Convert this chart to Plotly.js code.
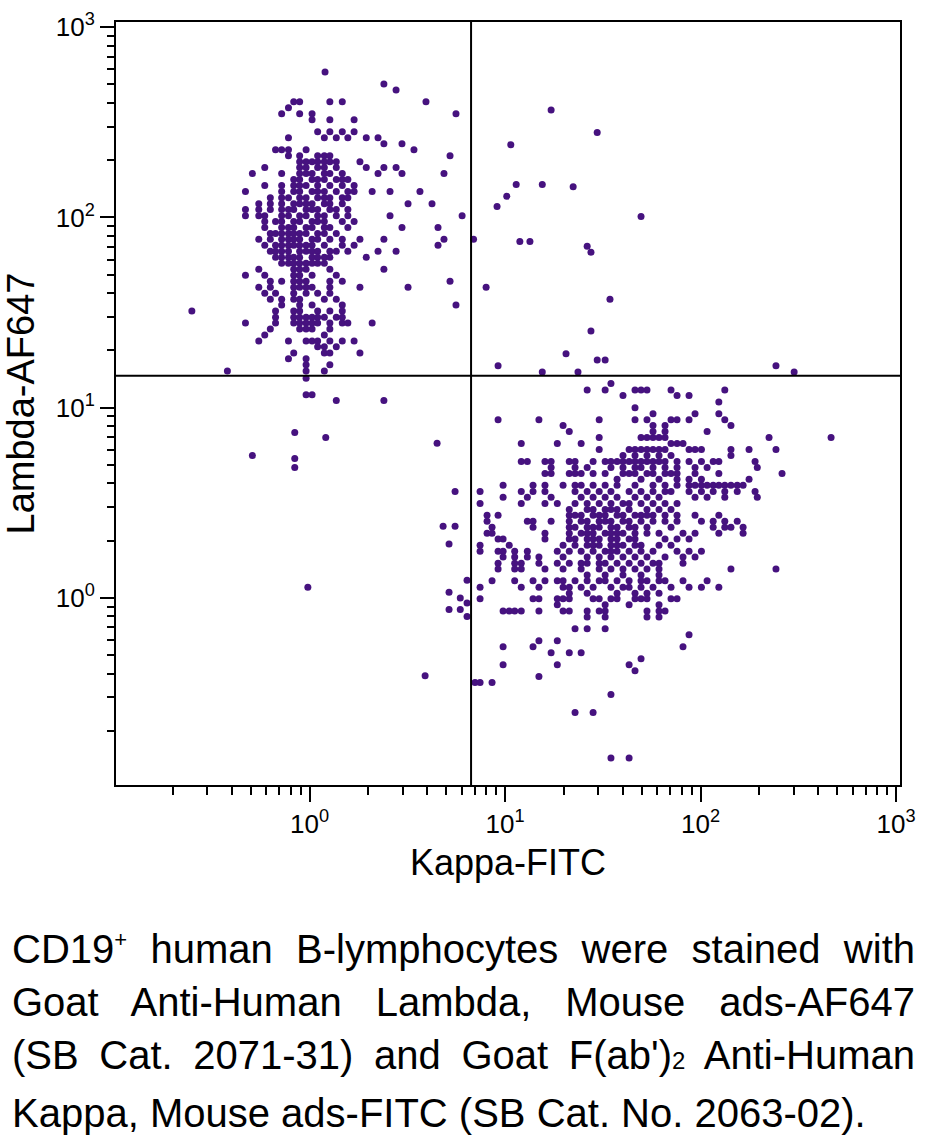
<!DOCTYPE html>
<html>
<head>
<meta charset="utf-8">
<script src="https://cdn.plot.ly/plotly-3.0.1.min.js"></script>
<style>
  html, body { margin: 0; padding: 0; background: #ffffff; }
  #wrap { position: relative; width: 930px; height: 1143px; overflow: hidden; }
  #chart { position: absolute; left: 0; top: 0; width: 930px; height: 900px; }
  #caption { position: absolute; left: 12px; top: 923px; width: 903px;
    font-family: "Liberation Sans", Arial, sans-serif; font-size: 40px; line-height: 53px; color: #000; }
  #caption .j { text-align: justify; text-align-last: justify; white-space: normal; }
  #caption .l { text-align: left; white-space: nowrap; }
</style>
</head>
<body>
<div id="wrap">
  <div id="chart"></div>
  <div id="caption">
    <div class="j">CD19<sup style="font-size:0.55em;vertical-align:0.75em;line-height:0">+</sup> human B-lymphocytes were stained with</div>
    <div class="j">Goat Anti-Human Lambda, Mouse ads-AF647</div>
    <div class="j">(SB Cat. 2071-31) and Goat F(ab')<span style="font-size:0.6em">2</span> Anti-Human</div>
    <div class="l">Kappa, Mouse ads-FITC (SB Cat. No. 2063-02).</div>
  </div>
</div>
<script>
// ---- axis ticks ----
const majorTickVals = [1, 10, 100, 1000];
const majorTickText = ['10<sup>0</sup>', '10<sup>1</sup>', '10<sup>2</sup>', '10<sup>3</sup>'];
const minorTickVals = [0.2,0.3,0.4,0.5,0.6,0.7,0.8,0.9, 2,3,4,5,6,7,8,9, 20,30,40,50,60,70,80,90, 200,300,400,500,600,700,800,900];

// ---- quadrant gates ----
const kappaGate = 6.7;
const lambdaGate = 14.7;

// ---- Lambda+ population (rows: Lambda value, Kappa values) ----
const lambdaPopLambda = [581, 503, 468, 405, 377, 351, 326, 282, 262, 244, 227, 211, 196, 183, 170, 158, 147, 137, 127, 118, 110, 102, 95.3, 88.6, 82.4, 76.7, 71.3, 66.4, 61.7, 57.4, 53.4, 49.7, 46.2, 43.0, 40.0, 37.2, 34.6, 32.2, 29.9, 27.9, 25.9, 24.1, 22.4, 20.9, 19.4, 18.1, 16.8, 15.6, 14.3, 11.7, 10.9];
const lambdaPopKappa = [
  [1.2], [2.4], [2.77],
  [0.83,0.89,1.27,1.47,3.94],
  [0.78],
  [0.72,0.89,1.03,5.61],
  [1.03,1.27,1.69],
  [1.10,1.27,1.47,1.69],
  [0.78,1.19,1.37,1.57,1.95,2.24],
  [2.40,2.97],
  [0.67,0.72,0.78,0.96,3.42],
  [0.78,0.89,1.10,1.19,1.27,5.23],
  [0.89,0.96,1.03,1.10,1.19,1.27,1.37,1.81],
  [0.59,0.89,0.96,1.10,1.19,1.37,1.95,2.40,2.77],
  [0.51,0.72,0.89,0.96,1.03,1.19,1.27,1.47,2.24,2.97,4.87],
  [0.83,0.89,1.03,1.10,1.19,1.37,1.47,1.57],
  [0.59,0.72,0.83,0.89,0.96,1.10,1.27,1.47,1.69],
  [0.47,0.72,0.83,0.89,1.03,1.10,1.19,1.37,1.57,1.69,2.09,2.58,3.67],
  [0.63,0.72,0.78,0.89,0.96,1.10,1.19,1.27,1.47,1.57],
  [0.55,0.63,0.72,0.83,0.89,0.96,1.03,1.19,1.27,1.47,3.19,4.23],
  [0.47,0.55,0.63,0.72,0.78,0.83,0.96,1.03,1.10,1.27,1.37,1.57],
  [0.47,0.55,0.59,0.72,0.78,0.89,0.96,1.10,1.19,1.37,1.57,2.58,6.03],
  [0.59,0.67,0.72,0.83,0.89,1.03,1.10,1.19,1.47,1.69],
  [0.59,0.72,0.78,0.83,0.96,1.03,1.19,1.27,1.57,2.97,4.54],
  [0.63,0.67,0.72,0.78,0.83,0.89,0.96,1.10,1.19,1.37],
  [0.55,0.63,0.72,0.78,0.83,0.89,1.03,1.10,1.27,1.47,1.81,2.40,4.87],
  [0.59,0.67,0.72,0.78,0.83,0.89,0.96,1.03,1.19,1.47,1.69,4.54],
  [0.63,0.67,0.72,0.78,0.89,0.96,1.03,1.10,1.27,1.37,1.57,2.24,2.77],
  [0.67,0.72,0.78,0.83,0.89,1.03,1.10,1.19,1.27,1.95],
  [0.72,0.78,0.83,0.89,0.96,1.03,1.10,1.19],
  [0.55,0.83,0.89,0.96,1.27,2.40],
  [0.47,0.59,0.83,0.89,1.03,1.37],
  [0.63,0.72,0.83,0.89,0.96,1.27,1.47,5.23],
  [0.55,0.63,0.83,0.89,0.96,1.03,1.27,1.81,3.19],
  [0.59,0.67,0.83,0.96,1.10,1.27],
  [0.63,0.72,0.83,0.89,1.19,1.37],
  [0.72,0.89,1.03,1.47,5.61],
  [0.25,0.67,0.83,0.89,1.10,1.27,1.47],
  [0.67,0.83,0.89,0.96,1.03,1.10,1.19,1.37,1.47],
  [0.47,0.67,0.83,0.89,0.96,1.03,1.10,1.27,1.47,1.57,2.09],
  [0.63,0.89,0.96,1.03,1.27],
  [0.59,1.19],
  [0.55,0.78,0.96,1.03,1.10,1.27,1.47,1.69],
  [1.10,1.19,1.37],
  [0.83,1.19,1.27,1.81],
  [0.78,0.96],
  [0.96,1.27],
  [0.38,0.96,1.19],
  [0.96],
  [0.96,1.03],
  [1.37,2.40]
];

// ---- Kappa+ population (rows: Lambda value, Kappa values) ----
const kappaPopLambda = [13.4, 12.4, 11.6, 10.7, 10.0, 9.30, 8.65, 8.05, 7.49, 6.97, 6.48, 6.03, 5.61, 5.22, 4.85, 4.51, 4.20, 3.91, 3.63, 3.38, 3.14, 2.92, 2.72, 2.53, 2.35, 2.19, 2.04, 1.89, 1.76, 1.64, 1.52, 1.42, 1.32, 1.23, 1.14, 1.06, 0.99, 0.92, 0.855, 0.795, 0.689, 0.640, 0.596, 0.554, 0.515, 0.479, 0.446, 0.415, 0.386, 0.359, 0.311, 0.250, 0.144];
const kappaPopKappa = [
  [34.8],
  [26.3,32.5,46.2,49.6,53.2,70.6,133],
  [40.1,75.8,87.3],
  [124],
  [46.2],
  [57.1,93.7,124],
  [9.21,14.9,30.3,46.2,53.2,70.6,75.8,87.3,133],
  [19.8,57.1,65.8,143],
  [21.3,57.1,65.8,108],
  [30.3,49.6,53.2,57.1,61.3,65.8,224,465],
  [12.1,18.5,24.5,70.6,75.8,81.3],
  [30.3,43.1,46.2,49.6,53.2,57.1,61.3,65.8,87.3,93.7,101,143,177,243],
  [40.1,46.2,53.2,61.3,70.6,143],
  [12.1,13.0,16.0,17.2,21.3,22.8,28.2,32.5,34.8,37.4,40.1,43.1,46.2,49.6,53.2,57.1,61.3,65.8,75.8,87.3,101,116,124,190],
  [17.2,22.8,26.3,34.8,40.1,46.2,49.6,57.1,65.8,75.8,93.7,108,195],
  [16.0,17.2,21.3,22.8,24.5,28.2,32.5,40.1,43.1,46.2,53.2,57.1,65.8,70.6,75.8,93.7,124,261],
  [37.4,49.6,61.3,75.8,87.3,101,177],
  [9.77,13.9,16.0,19.8,22.8,24.5,28.2,32.5,37.4,46.2,57.1,65.8,75.8,87.3,93.7,101,108,116,124,133,143,154,165],
  [7.45,12.1,13.9,16.0,22.8,26.3,30.3,34.8,43.1,49.6,57.1,65.8,70.6,87.3,101,116,133,154,190],
  [9.77,13.0,17.2,24.5,28.2,32.5,37.4,46.2,53.2,61.3,93.7,108,133,195],
  [7.45,12.1,16.0,18.5,22.8,26.3,30.3,34.8,40.1,43.1,49.6,57.1,65.8,75.8],
  [21.3,26.3,28.2,32.5,34.8,37.4,43.1,53.2,61.3,70.6],
  [8.09,9.21,21.3,22.8,24.5,28.2,30.3,32.5,37.4,40.1,46.2,49.6,53.2,57.1,65.8,75.8,93.7,124],
  [8.09,13.0,13.9,17.2,21.3,24.5,26.3,30.3,32.5,34.8,40.1,43.1,49.6,57.1,65.8,75.8,101,116,133,154],
  [8.58,13.9,21.3,22.8,26.3,28.2,30.3,34.8,37.4,43.1,46.2,53.2,70.6,116,133,143,165],
  [8.09,8.58,16.0,21.3,24.5,26.3,28.2,32.5,34.8,37.4,40.1,46.2,53.2,61.3,81.3,93.7,124,165],
  [9.21,9.77,16.0,21.3,22.8,26.3,28.2,30.3,34.8,37.4,43.1,46.2,65.8,75.8,87.3],
  [7.45,10.5,19.8,22.8,26.3,28.2,30.3,34.8,37.4,40.1,46.2,49.6,61.3,70.6],
  [7.45,9.21,9.77,11.2,13.0,18.5,21.3,24.5,28.2,32.5,34.8,37.4,43.1,49.6,57.1,75.8,87.3,101],
  [9.77,11.2,13.0,14.9,19.8,26.3,30.3,34.8,40.1,46.2,53.2,65.8,81.3,93.7],
  [9.21,11.2,12.1,14.9,18.5,21.3,24.5,26.3,30.3,32.5,37.4,43.1,49.6,57.1,61.3,81.3],
  [9.21,11.2,12.1,16.0,19.8,24.5,30.3,34.8,40.1,46.2,53.2,61.3,143,243],
  [26.3,32.5,40.1,49.6,61.3],
  [8.58,11.2,13.9,16.0,18.5,19.8,22.8,26.3,30.3,32.5,37.4,43.1,49.6,53.2,61.3,65.8,81.3,108],
  [7.45,12.1,14.9,19.8,21.3,24.5,28.2,34.8,40.1,43.1,49.6,57.1,70.6,87.3,101,124],
  [21.3,26.3,37.4,46.2,53.2,61.3],
  [7.45,13.9,14.9,18.5,19.8,21.3,28.2,30.3,34.8,37.4,46.2,49.6,53.2,70.6,75.8],
  [18.5,32.5,43.1,61.3],
  [9.77,10.5,11.2,12.1,14.9,19.8,21.3,26.3,30.3,32.5,53.2,61.3,65.8],
  [26.3,32.5,53.2,61.3],
  [22.8,26.3,32.5],
  [87.3],
  [14.9,18.5],
  [9.77,13.9,81.3],
  [17.2,21.3,24.5],
  [49.6],
  [9.77,18.5,43.1],
  [46.2],
  [14.9],
  [7.02,7.45,8.58],
  [34.8],
  [22.8,28.2],
  [34.8,43.1]
];

// ---- scattered events in the other quadrants ----
const otherKappa  = [0.51, 0.84, 0.84, 0.84, 1.21, 0.98, 3.90, 4.49, 5.55, 4.82, 5.55, 5.17, 6.39, 5.17, 5.9, 6.39, 5.17, 5.9, 6.39,
                     6.9, 8.0, 9.1, 10.2, 11.4, 10.7, 11.9, 13.4, 15.5, 17.2, 22.3, 29.6, 26.3, 27.5, 49.6, 34.4, 27.5, 29.6, 32.5, 20.5, 9.21, 15.5, 23.6, 243, 301];
const otherLambda = [5.6, 7.4, 5.4, 4.85, 6.97, 1.14, 0.39, 6.5, 3.63, 2.38, 2.38, 1.92, 1.24, 1.07, 1.0, 0.94, 0.87, 0.87, 0.8,
                     76.7, 43.0, 114, 129, 149, 241, 74.8, 74.8, 149, 367, 145, 279, 70.5, 65.6, 101, 37.2, 25.3, 17.8, 17.8, 19.2, 16.6, 15.4, 15.4, 16.6, 15.4];

function expandRows(rowsY, rowsX) {
  const xs = [], ys = [];
  rowsY.forEach((y, i) => rowsX[i].forEach(x => { xs.push(x); ys.push(y); }));
  return { xs, ys };
}
const lam = expandRows(lambdaPopLambda, lambdaPopKappa);
const kap = expandRows(kappaPopLambda, kappaPopKappa);

const dotColor = '#46127f';
const marker = { color: dotColor, size: 7, symbol: 'circle', line: { width: 0 } };

const traces = [
  { type: 'scatter', mode: 'markers', x: lam.xs, y: lam.ys, marker: marker, hoverinfo: 'skip' },
  { type: 'scatter', mode: 'markers', x: kap.xs, y: kap.ys, marker: marker, hoverinfo: 'skip' },
  { type: 'scatter', mode: 'markers', x: otherKappa, y: otherLambda, marker: marker, hoverinfo: 'skip' },
  { type: 'scatter', mode: 'lines', x: [kappaGate, kappaGate], y: [0.01, 100000], line: { color: '#000', width: 2 }, hoverinfo: 'skip' },
  { type: 'scatter', mode: 'lines', x: [0.01, 100000], y: [lambdaGate, lambdaGate], line: { color: '#000', width: 2 }, hoverinfo: 'skip' }
];

const tickFont = { family: '"Liberation Sans", Arial, sans-serif', size: 26, color: '#000' };
const titleFont = { family: '"Liberation Sans", Arial, sans-serif', size: 36, color: '#000' };
const yTitleFont = { family: '"Liberation Sans", Arial, sans-serif', size: 38, color: '#000' };

const layout = {
  width: 930, height: 900,
  margin: { l: 116, r: 30, t: 22, b: 115 },
  paper_bgcolor: '#fff', plot_bgcolor: '#fff',
  showlegend: false,
  xaxis: {
    type: 'log', range: [-0.99, 3.02],
    tickmode: 'array', tickvals: majorTickVals, ticktext: majorTickText,
    ticks: 'outside', ticklen: 15, tickwidth: 2, tickcolor: '#000',
    minor: { tickmode: 'array', tickvals: minorTickVals, ticks: 'outside', ticklen: 8, tickwidth: 2, tickcolor: '#000', showgrid: false },
    showgrid: false, zeroline: false,
    showline: true, linewidth: 2, linecolor: '#000', mirror: true,
    tickfont: tickFont,
    title: { text: 'Kappa-FITC', font: titleFont, standoff: 12 }
  },
  yaxis: {
    type: 'log', range: [-0.983, 3.027],
    tickmode: 'array', tickvals: majorTickVals, ticktext: majorTickText,
    ticks: 'outside', ticklen: 14, tickwidth: 2, tickcolor: '#000',
    minor: { tickmode: 'array', tickvals: minorTickVals, ticks: 'outside', ticklen: 7, tickwidth: 2, tickcolor: '#000', showgrid: false },
    showgrid: false, zeroline: false,
    showline: true, linewidth: 2, linecolor: '#000', mirror: true,
    tickfont: tickFont,
    title: { text: 'Lambda-AF647', font: yTitleFont, standoff: 12 }
  }
};

Plotly.newPlot('chart', traces, layout, { displayModeBar: false, staticPlot: true });
</script>
</body>
</html>
